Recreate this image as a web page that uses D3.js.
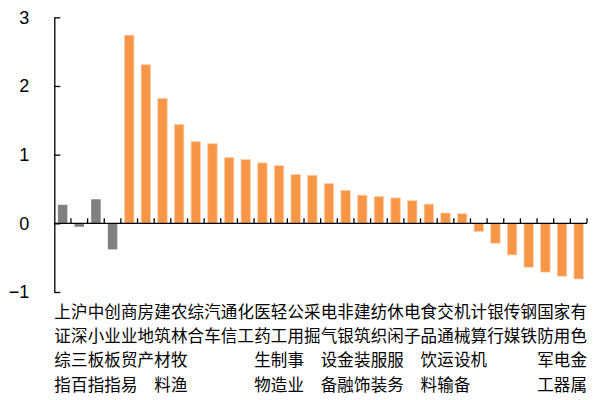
<!DOCTYPE html>
<html lang="zh">
  <head>
    <meta charset="UTF-8">
    <title>Chart</title>
    <style>
      body { margin: 0; background: #fff; }
      svg { display: block; }
    </style>
  </head>
  <body>
    <div id="chart"></div>
    <script src="https://d3js.org/d3.v7.min.js"></script>
    <script>
      // categories: 4 indices first, then industries
      var categories = ["上证综指", "沪深三百", "中小板指", "创业板指",
        "商业贸易", "房地产", "建筑材料", "农林牧渔", "综合", "汽车", "通信", "化工",
        "医药生物", "轻工制造", "公用事业", "采掘", "电气设备", "非银金融", "建筑装饰",
        "纺织服装", "休闲服务", "电子", "食品饮料", "交通运输", "机械设备", "计算机",
        "银行", "传媒", "钢铁", "国防军工", "家用电器", "有色金属"];
      var values = [0.27, -0.05, 0.35, -0.38,
        2.74, 2.31, 1.82, 1.44, 1.19, 1.16, 0.96, 0.93,
        0.88, 0.84, 0.71, 0.70, 0.58, 0.48, 0.41,
        0.39, 0.37, 0.33, 0.28, 0.15, 0.14, -0.12,
        -0.29, -0.46, -0.64, -0.71, -0.77, -0.81];
      var indexCount = 4;
      var yTicks = [-1, 0, 1, 2, 3];

      var W = 595, H = 400;
      var margin = { top: 17.3, right: 8, bottom: 108, left: 54.3 };

      var svg = d3.select("#chart").append("svg")
        .attr("width", W)
        .attr("height", H);

      var x = d3.scaleBand()
        .domain(categories)
        .range([margin.left, W - margin.right])
        .paddingInner(0.43)
        .paddingOuter(0.215);

      var y = d3.scaleLinear()
        .domain([-1, 3])
        .range([H - margin.bottom, margin.top]);

      // bars
      svg.selectAll("rect.bar")
        .data(values)
        .enter()
        .append("rect")
        .attr("class", "bar")
        .attr("x", function (d, i) { return x(categories[i]); })
        .attr("y", function (d) { return y(Math.max(0, d)); })
        .attr("width", x.bandwidth())
        .attr("height", function (d) { return Math.abs(y(d) - y(0)); })
        .attr("fill", function (d, i) { return i < indexCount ? "#808080" : "#F79646"; })
        .attr("stroke", function (d, i) { return i < indexCount ? "none" : "#FBD3B2"; })
        .attr("stroke-width", 0.8);

      // y axis, ticks pointing inward
      var yAxis = svg.append("g")
        .attr("transform", "translate(" + margin.left + ",0)")
        .call(d3.axisLeft(y).tickValues(yTicks).tickSizeInner(-6).tickSizeOuter(0).tickPadding(25)
          .tickFormat(d3.format("d")));
      yAxis.select(".domain").attr("stroke", "#000").attr("stroke-width", 1.3);
      yAxis.selectAll(".tick line").attr("stroke", "#000").attr("stroke-width", 1.3);
      yAxis.selectAll("text")
        .attr("fill", "#000")
        .style("font-family", "Liberation Sans, Arial, sans-serif")
        .style("font-size", "18px");

      // x axis at zero, ticks on category boundaries
      var step = x.step();
      var bounds = categories.map(function (c) { return x(c) - x.bandwidth() * 0 - (step - x.bandwidth()) / 2; });
      bounds.push(W - margin.right);
      svg.append("line")
        .attr("x1", margin.left)
        .attr("x2", W - margin.right)
        .attr("y1", y(0))
        .attr("y2", y(0))
        .attr("stroke", "#000")
        .attr("stroke-width", 1.4);
      svg.selectAll("line.xtick")
        .data(bounds.slice(1))
        .enter()
        .append("line")
        .attr("class", "xtick")
        .attr("x1", function (d) { return d; })
        .attr("x2", function (d) { return d; })
        .attr("y1", y(0))
        .attr("y2", y(0) - 5)
        .attr("stroke", "#000")
        .attr("stroke-width", 1.3);

      // vertical category labels, one character per row
      var rowY = [318, 342, 366, 391];
      var lab = svg.append("g")
        .style("font-family", "Noto Sans CJK SC, sans-serif")
        .style("font-size", "16.5px")
        .attr("fill", "#000")
        .attr("text-anchor", "middle");
      categories.forEach(function (c) {
        var cx = x(c) + x.bandwidth() / 2;
        Array.from(c).forEach(function (ch, k) {
          lab.append("text")
            .attr("x", cx)
            .attr("y", rowY[k])
            .text(ch);
        });
      });
    </script>
  </body>
</html>
